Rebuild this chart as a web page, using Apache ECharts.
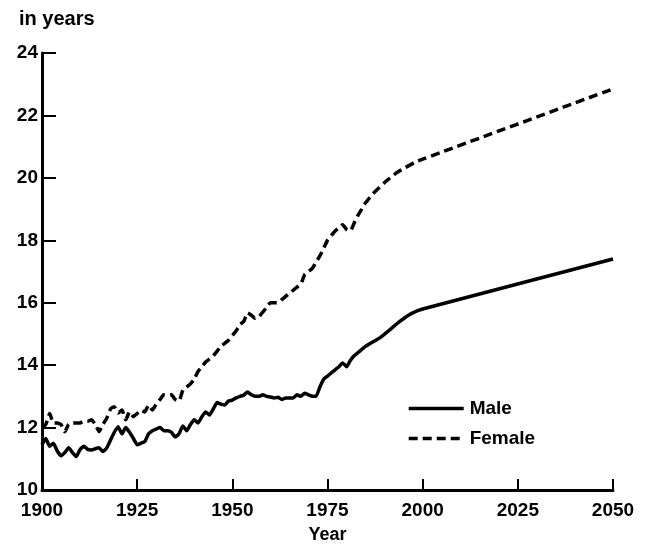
<!DOCTYPE html>
<html>
<head>
<meta charset="utf-8">
<script src="https://cdn.jsdelivr.net/npm/echarts@6/dist/echarts.min.js"></script>
<style>
  html, body { margin: 0; padding: 0; background: #fff; }
  #main { width: 655px; height: 545px; }
</style>
</head>
<body>
<div id="main"></div>
<script>
const maleYears = [1900,1901,1902,1903,1904,1905,1906,1907,1908,1909,1910,1911,1912,1913,1914,1915,1916,1917,1918,1919,
  1920,1921,1922,1923,1924,1925,1926,1927,1928,1929,1930,1931,1932,1933,1934,1935,1936,1937,1938,1939,
  1940,1941,1942,1943,1944,1945,1946,1947,1948,1949,1950,1951,1952,1953,1954,1955,1956,1957,1958,1959,
  1960,1961,1962,1963,1964,1965,1966,1967,1968,1969,1970,1971,1972,1973,1974,1975,1976,1977,1978,1979,
  1980,1981,1982,1983,1985,1989,1994,1997,2000,2050];
const maleValues = [11.45,11.65,11.4,11.5,11.25,11.1,11.2,11.35,11.2,11.07,11.3,11.4,11.3,11.28,11.32,11.35,11.23,11.35,11.6,11.85,
  12.03,11.8,12.0,11.85,11.65,11.45,11.5,11.55,11.8,11.9,11.95,12.0,11.9,11.9,11.85,11.7,11.8,12.05,11.9,12.1,
  12.25,12.15,12.35,12.5,12.4,12.6,12.8,12.75,12.72,12.85,12.88,12.95,13.0,13.04,13.14,13.05,13.0,13.0,13.05,13.0,
  12.98,12.95,12.97,12.9,12.95,12.95,12.95,13.05,13.0,13.1,13.05,13.0,13.0,13.3,13.55,13.65,13.75,13.85,13.95,14.07,
  13.95,14.15,14.3,14.4,14.6,14.9,15.4,15.65,15.8,17.4];

const femaleYears = [1900,1901,1902,1903,1904,1905,1906,1907,1908,1909,1910,1911,1912,1913,1914,1915,1916,1917,1918,1919,
  1920,1921,1922,1923,1924,1925,1926,1927,1928,1929,1930,1931,1932,1933,1934,1935,1936,1937,1938,1939,
  1940,1941,1942,1943,1944,1945,1946,1947,1948,1949,1950,1951,1952,1953,1954,1955,1956,1957,1958,1959,
  1960,1961,1962,1963,1964,1965,1966,1967,1968,1969,1970,1971,1972,1973,1974,1975,1976,1977,1978,1979,
  1980,1981,1982,1983,1984,1985,1987,1990,1993,1995,1998,2000,2050];
const femaleValues = [12.0,12.1,12.45,12.15,12.15,12.1,11.87,12.1,12.15,12.15,12.15,12.2,12.2,12.25,12.1,11.87,12.1,12.3,12.6,12.67,
  12.47,12.56,12.25,12.5,12.35,12.45,12.56,12.5,12.72,12.56,12.75,12.9,13.05,13.05,13.05,12.9,12.85,13.2,13.3,13.4,
  13.55,13.8,13.95,14.1,14.2,14.3,14.45,14.6,14.7,14.8,14.95,15.1,15.3,15.4,15.67,15.6,15.5,15.55,15.7,15.85,
  16.0,16.0,16.0,16.1,16.2,16.3,16.4,16.5,16.6,16.9,17.0,17.1,17.3,17.5,17.75,18.0,18.15,18.3,18.4,18.5,
  18.35,18.3,18.55,18.8,19.0,19.2,19.5,19.85,20.15,20.3,20.5,20.6,22.85];

const xTicks = [1900, 1925, 1950, 1975, 2000, 2025, 2050];
const yTicks = [10, 12, 14, 16, 18, 20, 22, 24];

const font = '"Liberation Sans", Arial, sans-serif';
const zip = (xs, ys) => xs.map((x, i) => [x, ys[i]]);

const chart = echarts.init(document.getElementById('main'));
chart.setOption({
  animation: false,
  backgroundColor: '#fff',
  title: {
    text: 'in years',
    left: 14, top: 4,
    textStyle: { fontFamily: font, fontWeight: 'bold', fontSize: 20, color: '#000' }
  },
  grid: { left: 42, right: 42, top: 53, bottom: 55, containLabel: false, outerBoundsMode: 'none' },
  legend: {
    orient: 'vertical',
    left: 402, top: 394,
    itemWidth: 55, itemHeight: 14, itemGap: 11,
    itemStyle: { opacity: 0 },
    lineStyle: { width: 3.4, color: '#000' },
    textStyle: { fontFamily: font, fontWeight: 'bold', fontSize: 19, color: '#000', padding: [0, 0, 0, 1] },
    data: ['Male', 'Female']
  },
  xAxis: {
    type: 'value',
    min: 1900, max: 2050, interval: 25,
    name: 'Year', nameLocation: 'middle', nameGap: 36,
    nameTextStyle: { fontFamily: font, fontWeight: 'bold', fontSize: 18, color: '#000' },
    axisLine: { lineStyle: { color: '#000', width: 3 } },
    axisTick: { inside: true, length: 11, lineStyle: { color: '#000', width: 2 } },
    axisLabel: { fontFamily: font, fontWeight: 'bold', fontSize: 19, color: '#000', margin: 11,
      formatter: v => xTicks.includes(v) ? String(v) : '' },
    splitLine: { show: false }
  },
  yAxis: {
    type: 'value',
    min: 10, max: 24, interval: 2,
    axisLine: { lineStyle: { color: '#000', width: 3 } },
    axisTick: { inside: true, length: 14, lineStyle: { color: '#000', width: 2 } },
    axisLabel: { fontFamily: font, fontWeight: 'bold', fontSize: 19, color: '#000', margin: 4,
      formatter: v => yTicks.includes(v) ? String(v) : '' },
    splitLine: { show: false }
  },
  series: [
    {
      name: 'Male', type: 'line', showSymbol: false, symbol: 'none', smooth: 0.15,
      data: zip(maleYears, maleValues),
      lineStyle: { color: '#000', width: 3.5 },
      itemStyle: { color: '#000' }
    },
    {
      name: 'Female', type: 'line', showSymbol: false, symbol: 'none', smooth: 0.15,
      data: zip(femaleYears, femaleValues),
      lineStyle: { color: '#000', width: 3.5, type: [9, 5] },
      itemStyle: { color: '#000' }
    }
  ]
});
</script>
</body>
</html>
